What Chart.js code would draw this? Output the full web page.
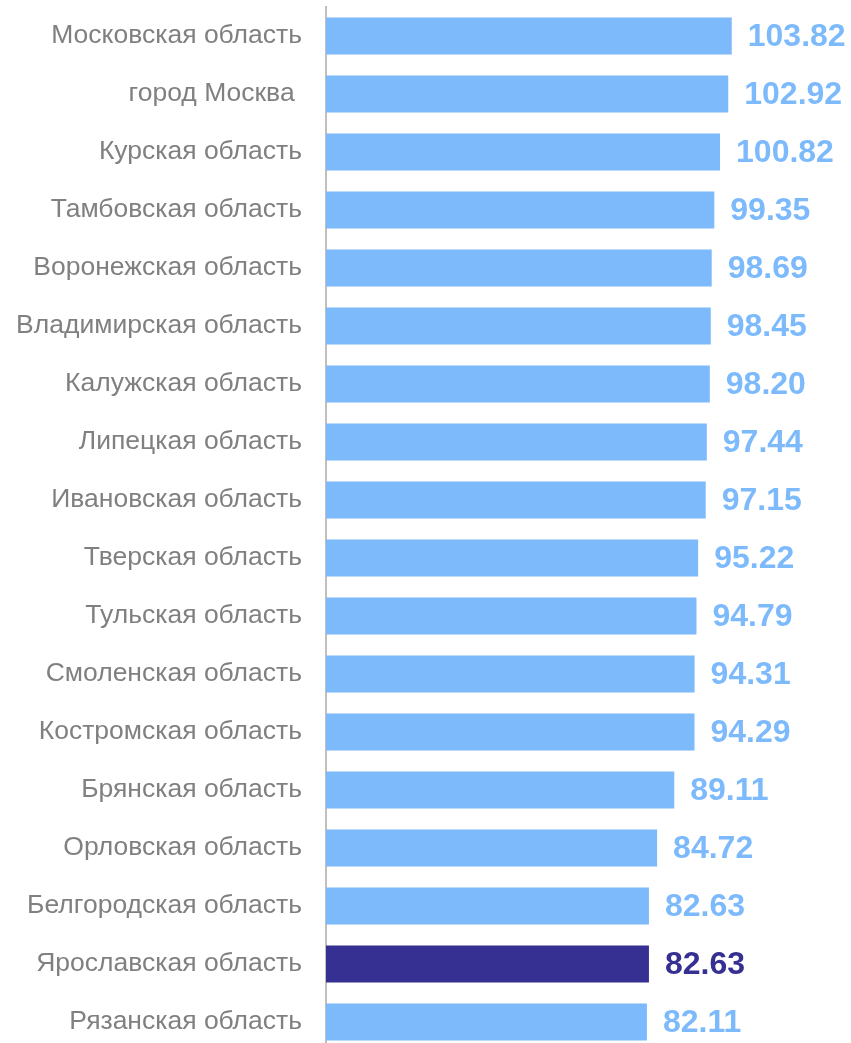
<!DOCTYPE html>
<html>
<head>
<meta charset="utf-8">
<script src="https://cdn.jsdelivr.net/npm/chart.js@4"></script>
<style>
  html, body { margin: 0; padding: 0; background: #fff; overflow: hidden; }
  canvas { display: block; }
</style>
</head>
<body>
<canvas id="chart" width="851" height="1060"></canvas>
<script>
  // Regions and their values
  const regions = [
    'Московская область', 'город Москва ', 'Курская область', 'Тамбовская область',
    'Воронежская область', 'Владимирская область', 'Калужская область', 'Липецкая область',
    'Ивановская область', 'Тверская область', 'Тульская область', 'Смоленская область',
    'Костромская область', 'Брянская область', 'Орловская область', 'Белгородская область',
    'Ярославская область', 'Рязанская область'
  ];
  const values = [
    103.82, 102.92, 100.82, 99.35, 98.69, 98.45, 98.20, 97.44,
    97.15, 95.22, 94.79, 94.31, 94.29, 89.11, 84.72, 82.63, 82.63, 82.11
  ];
  const highlightRegion = 'Ярославская область';

  const lightBlue = '#7dbafc';
  const darkBlue = '#353092';
  const barColors = regions.map(r => r === highlightRegion ? darkBlue : lightBlue);

  // value labels next to bar ends
  const valueLabels = {
    id: 'valueLabels',
    afterDatasetsDraw(chart) {
      const ctx = chart.ctx;
      const meta = chart.getDatasetMeta(0);
      ctx.save();
      ctx.font = 'bold 32px "Liberation Sans", Arial, sans-serif';
      ctx.textAlign = 'left';
      ctx.textBaseline = 'middle';
      meta.data.forEach((bar, i) => {
        ctx.fillStyle = barColors[i];
        ctx.fillText(values[i].toFixed(2), bar.x + 16, bar.y + 1);
      });
      ctx.restore();
    }
  };

  const ctx = document.getElementById('chart').getContext('2d');
  new Chart(ctx, {
    type: 'bar',
    data: {
      labels: regions,
      datasets: [{
        data: values,
        backgroundColor: barColors,
        categoryPercentage: 1,
        barPercentage: 0.64
      }]
    },
    options: {
      indexAxis: 'y',
      responsive: false,
      animation: false,
      layout: { padding: { top: 7, right: 56, bottom: 9, left: 0 } },
      plugins: {
        legend: { display: false },
        tooltip: { enabled: false }
      },
      scales: {
        x: {
          min: 0,
          max: 120,
          display: false
        },
        y: {
          grid: { display: false, drawTicks: false },
          border: { display: true, color: '#c0c0c0', width: 2 },
          ticks: {
            color: '#808080',
            padding: 24,
            font: { family: '"Liberation Sans", Arial, sans-serif', size: 26.5 }
          },
          afterFit(scale) {
            scale.width = 326;
            scale.paddingTop = 0;
            scale.paddingBottom = 0;
          }
        }
      }
    },
    plugins: [valueLabels]
  });
</script>
</body>
</html>
